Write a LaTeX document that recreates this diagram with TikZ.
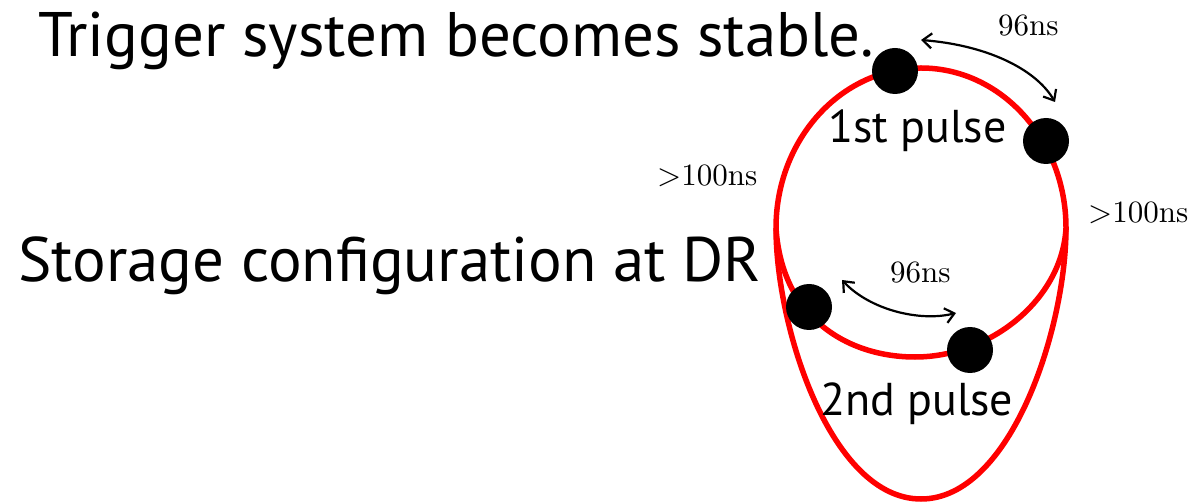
\documentclass[tikz,border=0pt]{standalone}
\usepackage{fontspec}
\newfontfamily\labsans{PT Sans}
\usetikzlibrary{arrows.meta}
\tikzset{
  ring/.style={draw=red, line width=5.5pt},
  pulse/.style={circle, fill=black, minimum size=46pt, inner sep=0pt},
  timearrow/.style={draw=black, line width=2.2pt, {Straight Barb[length=9pt,width=15pt]}-{Straight Barb[length=9pt,width=15pt]}},
  bigtext/.style={anchor=base west, inner sep=0pt, font=\labsans\fontsize{62.9}{70}\selectfont},
  midtext/.style={anchor=base west, inner sep=0pt, font=\labsans\fontsize{46}{50}\selectfont},
  timelabel/.style={anchor=base west, inner sep=0pt, font=\fontsize{10}{12}\selectfont}
}
\newcommand{\tlab}[1]{\scalebox{3.1}{#1}}
\begin{document}
\begin{tikzpicture}[x=1pt,y=-1pt]
\fill[white] (0,0) rectangle (1188,502);
\useasboundingbox (0,0) rectangle (1188,502);
% nodes text
\node[bigtext] (title) at (38,57) {Trigger system becomes stable.};
\node[bigtext] (storage) at (18,282) {Storage configuration at DR};
% ring
\coordinate (L) at (776,228);
\coordinate (R) at (1066,228);
\coordinate (B) at (921,499);
\coordinate (M) at (915,357);
\draw[ring] (L) arc[start angle=180, end angle=0, x radius=145, y radius=-160];
\draw[ring] (L) .. controls (776,328) and (831,499) .. (B) .. controls (1011,499) and (1066,328) .. (R);
\draw[ring] (L) .. controls (782,320) and (850,357) .. (M) .. controls (990,357) and (1062,300) .. (R);
% pulses
\node[pulse] (p1) at (895,71) {};
\node[pulse] (p2) at (1046,141) {};
\node[pulse] (p3) at (809,307) {};
\node[pulse] (p4) at (970,350) {};
% labels
\node[midtext] (first) at (828,143) {1st pulse};
\node[midtext] (second) at (820,415) {2nd pulse};
\node[timelabel] (t1) at (998,36) {\tlab{96ns}};
\node[timelabel] (t2) at (890,283) {\tlab{96ns}};
\node[timelabel] (t3) at (657,186) {\tlab{$>$100ns}};
\node[timelabel] (t4) at (1088,223) {\tlab{$>$100ns}};
% arrows
\coordinate (a1s) at (921,40);
\coordinate (a1e) at (1055,102);
\coordinate (a2s) at (842,280);
\coordinate (a2e) at (956,313);
\draw[timearrow] (a1s) .. controls (985,45) and (1035,68) .. (a1e);
\draw[timearrow] (a2s) .. controls (870,310) and (920,322) .. (a2e);
\end{tikzpicture}
\end{document}
